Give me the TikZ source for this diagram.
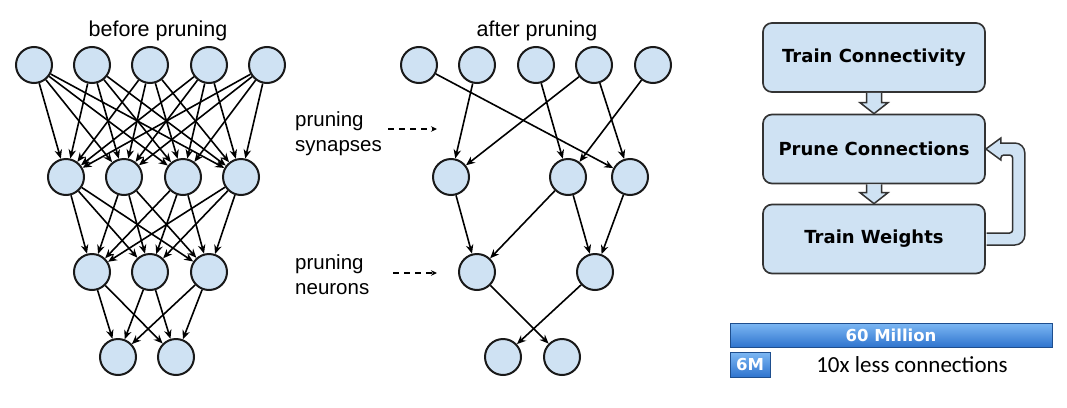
\documentclass[tikz,border=0pt]{standalone}
\usepackage{fontspec}
\setmainfont{Liberation Sans}
\newfontfamily\boxfont{DejaVu Sans}
\newfontfamily\notefont{Carlito}
\usetikzlibrary{arrows.meta,calc}

\definecolor{nodeblue}{HTML}{CFE2F3}
\definecolor{barlight}{HTML}{7DB8F4}
\definecolor{bardark}{HTML}{2F74CE}
\definecolor{barline}{HTML}{1E4E8E}

\begin{document}
\begin{tikzpicture}[x=1pt,y=-1pt,>={Stealth[length=9pt,width=7.5pt]},
 neuron/.style={circle,draw=black!90,line width=2pt,fill=nodeblue,minimum size=36pt,inner sep=0pt},
 syn/.style={->,line width=1.6pt},
 title/.style={font=\fontsize{21.5}{26}\selectfont,anchor=base},
 note/.style={font=\fontsize{20.5}{25}\selectfont,align=left,anchor=west,inner sep=0pt},
 hint/.style={-{Stealth[length=6pt,width=5.5pt]},line width=1.5pt,dash pattern=on 6pt off 5pt},
 stage/.style={draw=black!80,line width=1.7pt,fill=nodeblue,rounded corners=9pt,minimum width=222pt,minimum height=69pt,font=\boxfont\bfseries\fontsize{18}{22}\selectfont},
 blockar/.style={draw=black!80,line width=1.5pt,fill=nodeblue},
 bar/.style={draw=barline,line width=1pt,top color=barlight,bottom color=bardark,text=white,inner sep=0pt,font=\boxfont\bfseries\fontsize{16.5}{20}\selectfont}]
\useasboundingbox (0,0) rectangle (1067,407);

% before pruning
\node[title] (tb) at (158,36) {before pruning};
\node[neuron] (bi1) at (34,65) {};
\node[neuron] (bi2) at (92,65) {};
\node[neuron] (bi3) at (150,65) {};
\node[neuron] (bi4) at (209,65) {};
\node[neuron] (bi5) at (267,65) {};
\node[neuron] (bh1) at (66,177) {};
\node[neuron] (bh2) at (124,177) {};
\node[neuron] (bh3) at (183,177) {};
\node[neuron] (bh4) at (241,177) {};
\node[neuron] (bg1) at (92,272) {};
\node[neuron] (bg2) at (150,272) {};
\node[neuron] (bg3) at (209,272) {};
\node[neuron] (bo1) at (118,357) {};
\node[neuron] (bo2) at (176,357) {};
\foreach \s in {1,...,5} \foreach \t in {1,...,4} \draw[syn] (bi\s) -- (bh\t);
\foreach \s in {1,...,4} \foreach \t in {1,...,3} \draw[syn] (bh\s) -- (bg\t);
\foreach \s in {1,...,3} \foreach \t in {1,2} \draw[syn] (bg\s) -- (bo\t);

% labels in between
\node[note] (ps) at (295,134) {pruning\\synapses};
\node[note] (pn) at (295,275) {pruning\\neurons};
\coordinate (ps0) at (388,129); \coordinate (ps1) at (437,129);
\coordinate (pn0) at (393,273); \coordinate (pn1) at (437,273);
\draw[hint] (ps0) -- (ps1);
\draw[hint] (pn0) -- (pn1);

% after pruning
\node[title] (ta) at (537,36) {after pruning};
\node[neuron] (ai1) at (419,65) {};
\node[neuron] (ai2) at (477,65) {};
\node[neuron] (ai3) at (536,65) {};
\node[neuron] (ai4) at (594,65) {};
\node[neuron] (ai5) at (653,65) {};
\node[neuron] (ah1) at (451,177) {};
\node[neuron] (ah2) at (568,177) {};
\node[neuron] (ah3) at (630,177) {};
\node[neuron] (ag1) at (477,272) {};
\node[neuron] (ag2) at (595,272) {};
\node[neuron] (ao1) at (503,357) {};
\node[neuron] (ao2) at (562,357) {};
\draw[syn] (ai1) -- (ah3);
\draw[syn] (ai2) -- (ah1);
\draw[syn] (ai3) -- (ah2);
\draw[syn] (ai4) -- (ah1);
\draw[syn] (ai4) -- (ah3);
\draw[syn] (ai5) -- (ah2);
\draw[syn] (ah1) -- (ag1);
\draw[syn] (ah2) -- (ag1);
\draw[syn] (ah2) -- (ag2);
\draw[syn] (ah3) -- (ag2);
\draw[syn] (ag1) -- (ao2);
\draw[syn] (ag2) -- (ao1);

% three stages
\node[stage] (tc) at (874,57.5) {Train Connectivity};
\node[stage] (pc) at (874,149) {Prune Connections};
\node[stage] (tw) at (874,239) {Train Weights};
\foreach \a/\b in {tc/pc,pc/tw}
  \filldraw[blockar] ([xshift=-7.5pt]\a.south) -- ([xshift=-7.5pt,yshift=11pt]\b.north) -- ([xshift=-14pt,yshift=11pt]\b.north) -- (\b.north) -- ([xshift=14pt,yshift=11pt]\b.north) -- ([xshift=7.5pt,yshift=11pt]\b.north) -- ([xshift=7.5pt]\a.south);
\filldraw[blockar] ([xshift=0.8pt,yshift=6pt]tw.east) [rounded corners=3pt] -- ++(26,0) |- ([xshift=15pt,yshift=-6pt]pc.east) [sharp corners] -- ++(0,5) -- (pc.east) -- ++(15,-11) -- ++(0,5) [rounded corners=10pt] -| ([xshift=39pt,yshift=-6pt]tw.east) [sharp corners] -- ([xshift=0.8pt,yshift=-6pt]tw.east);

% connection count
\node[bar,minimum width=322pt,minimum height=24pt] (full) at (891,335) {60 Million};
\node[bar,minimum width=40pt,minimum height=25pt] (kept) at (750,364.5) {6M};
\node[font=\notefont\fontsize{23}{27}\selectfont] (ratio) at (912,365) {10x less connections};
\end{tikzpicture}
\end{document}
